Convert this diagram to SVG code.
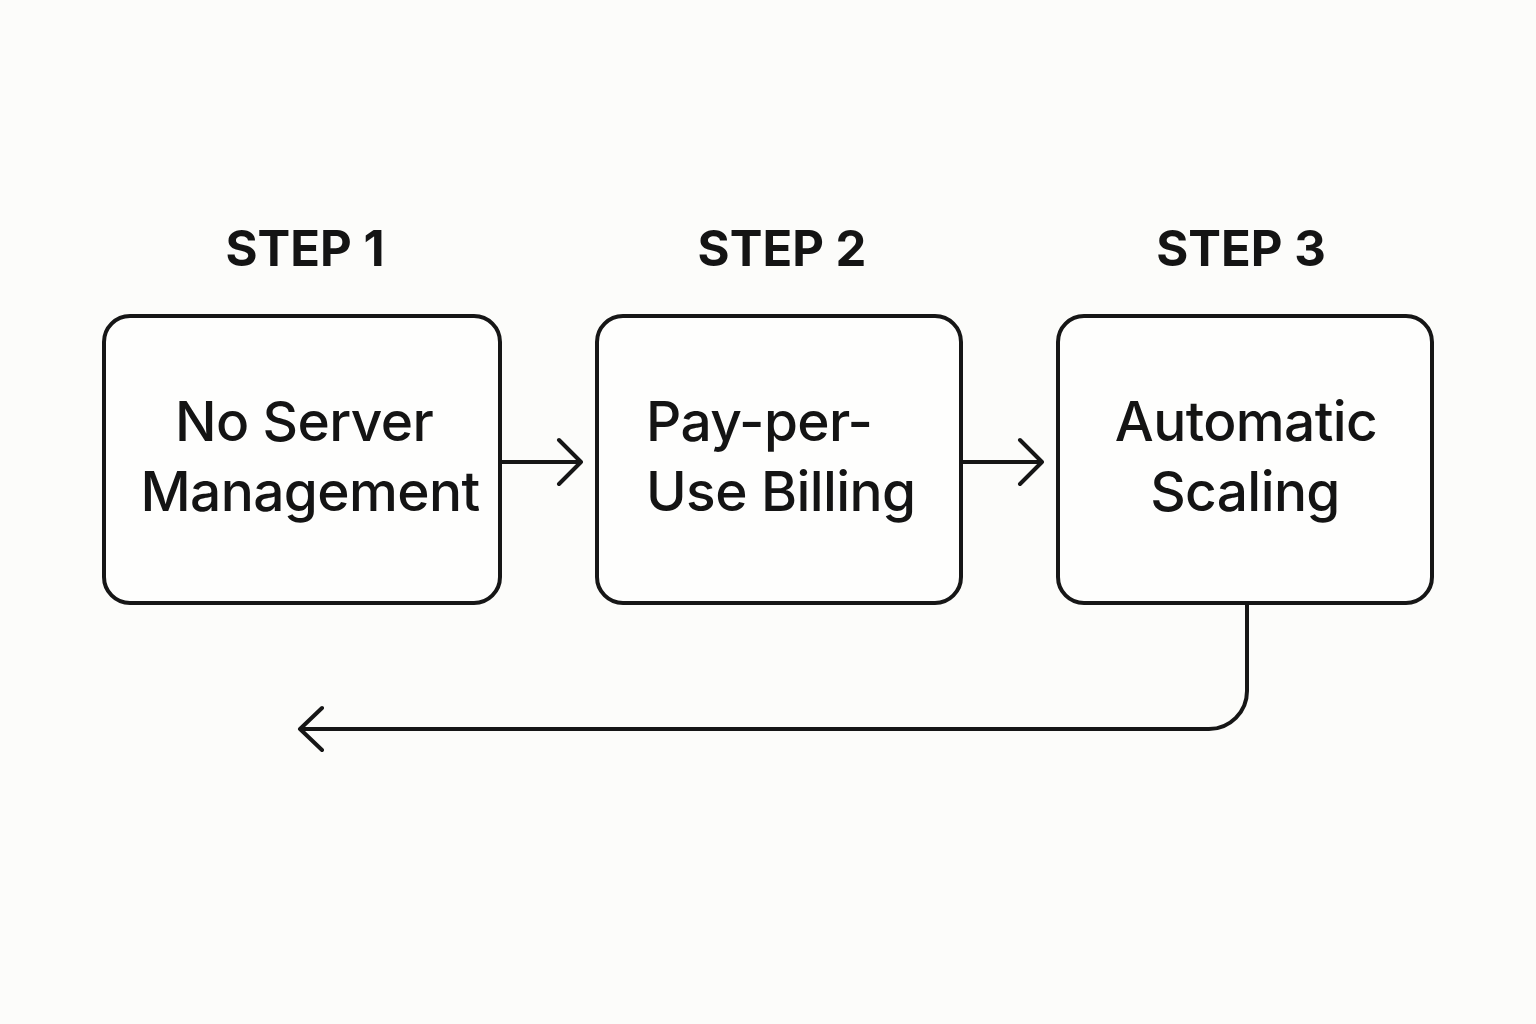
<svg xmlns="http://www.w3.org/2000/svg" width="1536" height="1024" viewBox="0 0 1536 1024">
<style>
.box{fill:#fefefd;stroke:#161616;stroke-width:4}
.step{font-family:Inter,"Liberation Sans",sans-serif;font-weight:700;font-size:49px;fill:#141414;text-anchor:middle}
.lbl{font-family:Inter,"Liberation Sans",sans-serif;font-weight:500;font-size:55px;letter-spacing:-0.6px;fill:#141414}
.c{text-anchor:middle}
.conn{fill:none;stroke:#161616;stroke-width:4;stroke-linecap:round;stroke-linejoin:round}
</style>
<rect width="1536" height="1024" fill="#fcfcfa"/>
<g id="node1">
<text class="step" x="305" y="266">STEP 1</text>
<rect class="box" x="104" y="316" width="396" height="287" rx="26"/>
<text class="lbl c" x="304" y="441">No Server</text>
<text class="lbl c" x="310" y="511">Management</text>
</g>
<g id="node2">
<text class="step" x="782" y="266">STEP 2</text>
<rect class="box" x="597" y="316" width="364" height="287" rx="26"/>
<text class="lbl" x="646" y="441">Pay-per-</text>
<text class="lbl" x="646" y="511">Use Billing</text>
</g>
<g id="node3">
<text class="step" x="1241" y="266">STEP 3</text>
<rect class="box" x="1058" y="316" width="374" height="287" rx="26"/>
<text class="lbl c" x="1246" y="441">Automatic</text>
<text class="lbl c" x="1245" y="511">Scaling</text>
</g>
<g id="connectors">
<path class="conn" d="M502 462H581M559 440L581 462L559 484"/>
<path class="conn" d="M963 462H1042M1020 440L1042 462L1020 484"/>
<path class="conn" d="M1247 605V691A38 38 0 0 1 1209 729H300M322 708L300 729L322 750"/>
</g>
</svg>
